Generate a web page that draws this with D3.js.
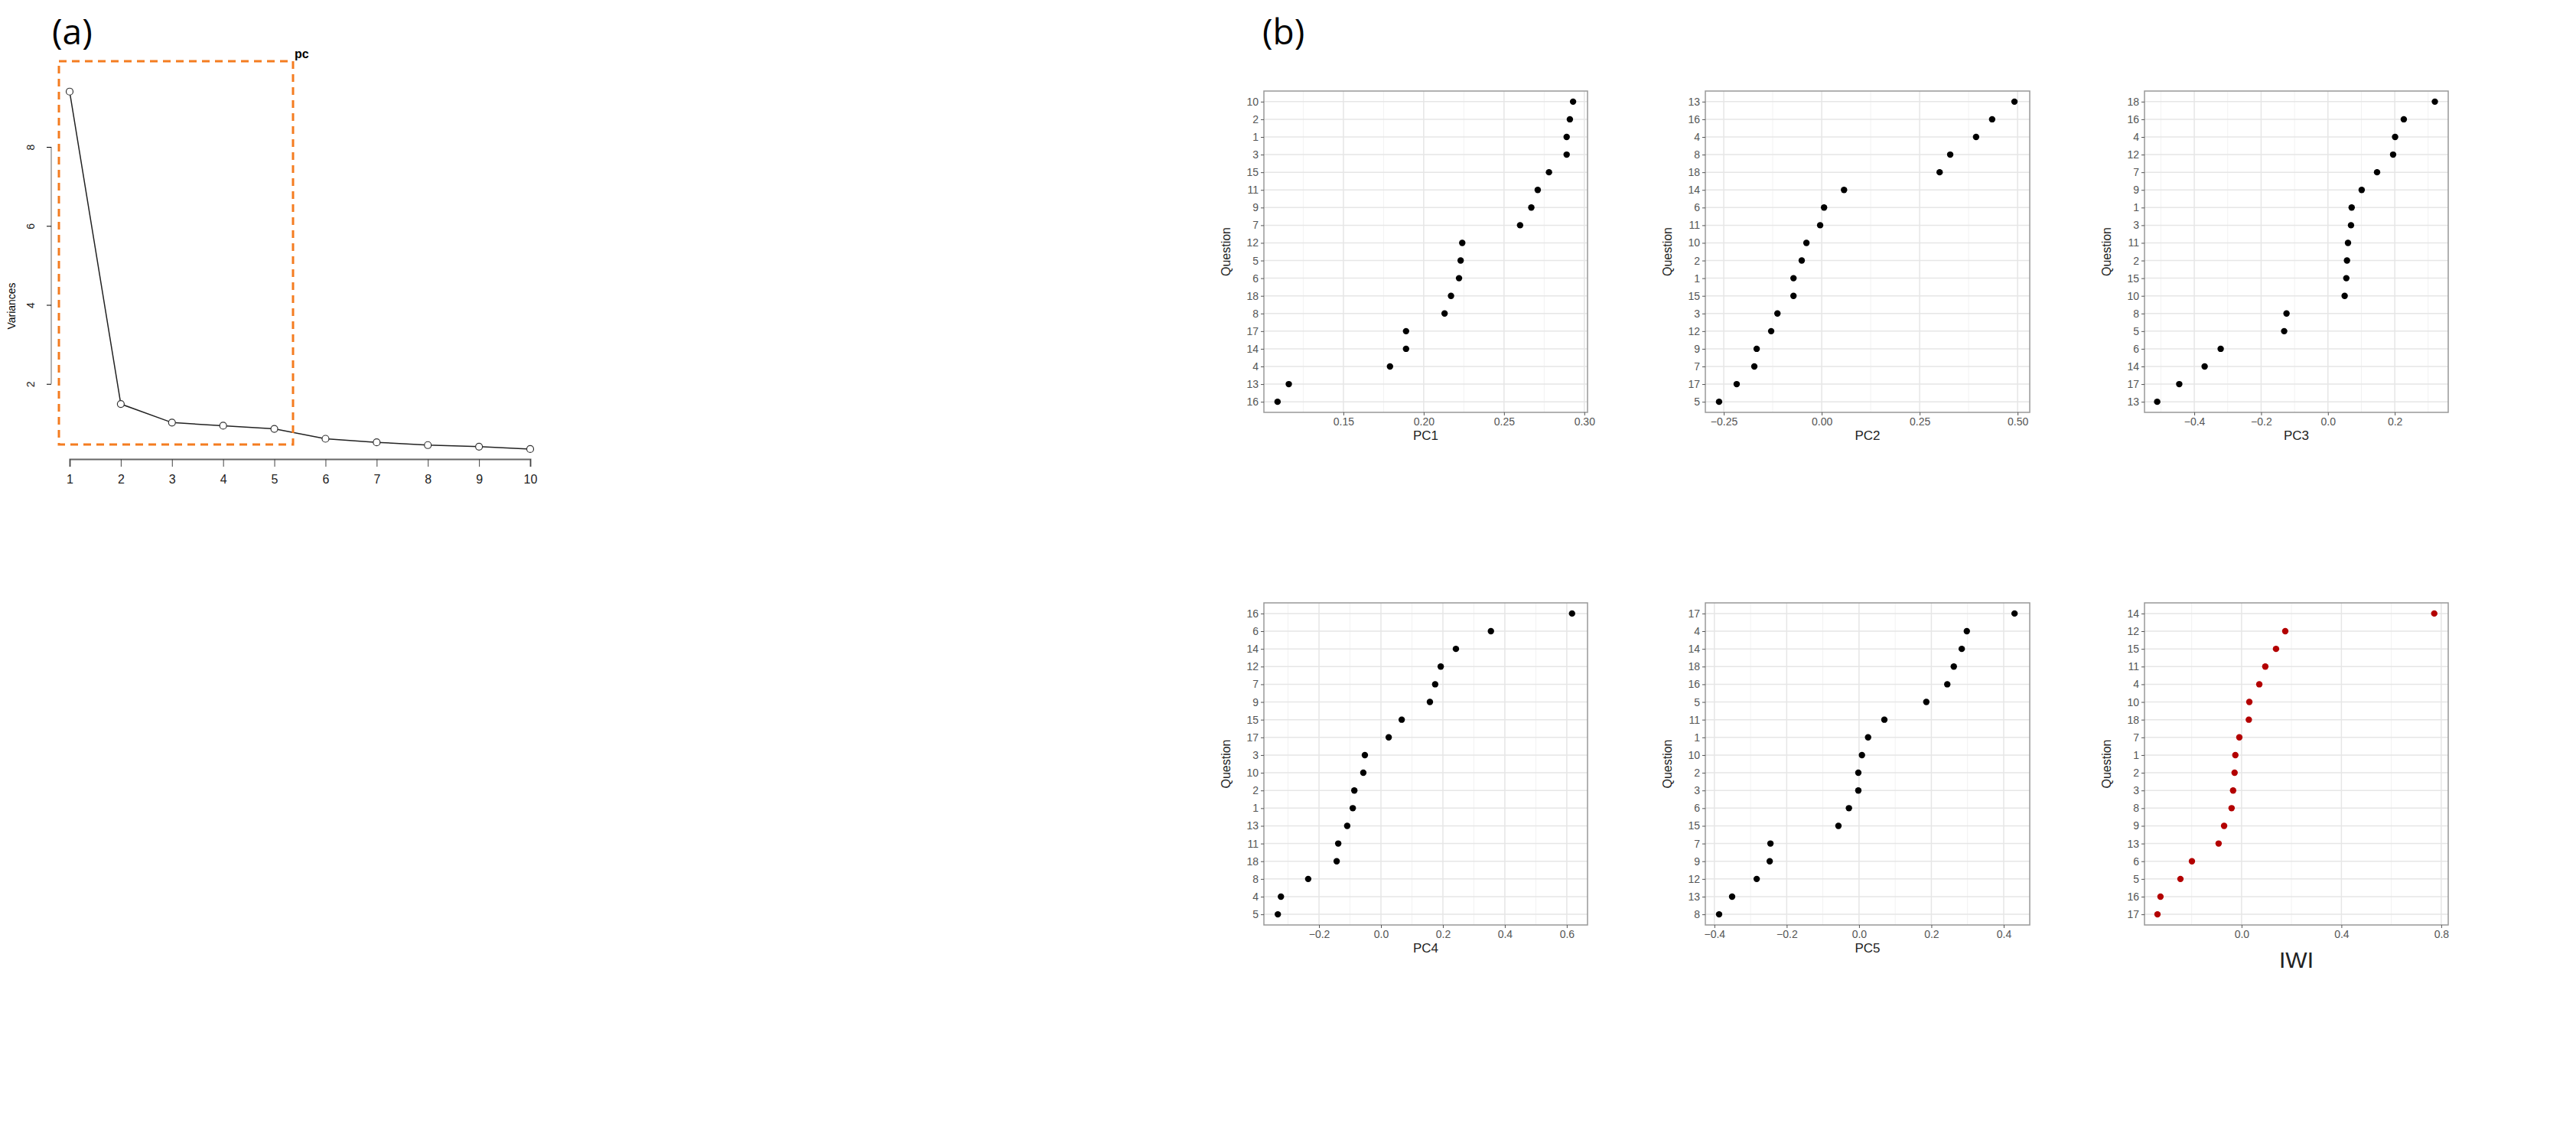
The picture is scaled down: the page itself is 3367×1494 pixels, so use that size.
<!DOCTYPE html>
<html>
<head>
<meta charset="utf-8">
<script src="https://cdn.jsdelivr.net/npm/d3@7"></script>
<style>
  body { margin: 0; background: #fff; }
  text { font-family: "Liberation Sans", Arial, sans-serif; }
</style>
</head>
<body>
<svg id="chart" width="3367" height="1494"></svg>
<script>
// scree plot (a)
var components = [1, 2, 3, 4, 5, 6, 7, 8, 9, 10];
var variances = [9.4, 1.49, 1.02, 0.94, 0.86, 0.61, 0.52, 0.45, 0.41, 0.35];
var varTicks = [2, 4, 6, 8];

// loadings (b), questions listed top to bottom
var pc1Questions = ["10", "2", "1", "3", "15", "11", "9", "7", "12", "5", "6", "18", "8", "17", "14", "4", "13", "16"];
var pc1Values = [0.293, 0.291, 0.289, 0.289, 0.278, 0.271, 0.267, 0.260, 0.224, 0.223, 0.222, 0.217, 0.213, 0.189, 0.189, 0.179, 0.116, 0.109];
var pc1Ticks = [0.15, 0.20, 0.25, 0.30];

var pc2Questions = ["13", "16", "4", "8", "18", "14", "6", "11", "10", "2", "1", "15", "3", "12", "9", "7", "17", "5"];
var pc2Values = [0.492, 0.435, 0.394, 0.328, 0.301, 0.057, 0.006, -0.004, -0.039, -0.051, -0.072, -0.072, -0.113, -0.129, -0.166, -0.172, -0.217, -0.262];
var pc2Ticks = [-0.25, 0, 0.25, 0.50];

var pc3Questions = ["18", "16", "4", "12", "7", "9", "1", "3", "11", "2", "15", "10", "8", "5", "6", "14", "17", "13"];
var pc3Values = [0.32, 0.227, 0.201, 0.195, 0.147, 0.101, 0.071, 0.069, 0.060, 0.057, 0.055, 0.050, -0.124, -0.131, -0.321, -0.369, -0.445, -0.511];
var pc3Ticks = [-0.4, -0.2, 0.0, 0.2];

var pc4Questions = ["16", "6", "14", "12", "7", "9", "15", "17", "3", "10", "2", "1", "13", "11", "18", "8", "4", "5"];
var pc4Values = [0.617, 0.355, 0.242, 0.193, 0.175, 0.158, 0.067, 0.025, -0.052, -0.057, -0.086, -0.091, -0.109, -0.138, -0.143, -0.235, -0.323, -0.333];
var pc4Ticks = [-0.2, 0.0, 0.2, 0.4, 0.6];

var pc5Questions = ["17", "4", "14", "18", "16", "5", "11", "1", "10", "2", "3", "6", "15", "7", "9", "12", "13", "8"];
var pc5Values = [0.43, 0.298, 0.284, 0.262, 0.244, 0.186, 0.070, 0.025, 0.008, -0.002, -0.002, -0.028, -0.057, -0.245, -0.247, -0.283, -0.351, -0.387];
var pc5Ticks = [-0.4, -0.2, 0.0, 0.2, 0.4];

var iwiQuestions = ["14", "12", "15", "11", "4", "10", "18", "7", "1", "2", "3", "8", "9", "13", "6", "5", "16", "17"];
var iwiValues = [0.772, 0.175, 0.138, 0.095, 0.071, 0.031, 0.029, -0.009, -0.025, -0.028, -0.034, -0.040, -0.070, -0.092, -0.199, -0.245, -0.325, -0.337];
var iwiTicks = [0.0, 0.4, 0.8];

var svg = d3.select("#chart");

// ---------- panel (a) ----------
svg.append("text").attr("x", 68).attr("y", 58)
  .style("font-family", "Open Sans").style("font-size", "46px").text("(a)");

var sx = d3.scaleLinear().domain([1, 10]).range([91, 693]);
var sy = d3.scaleLinear().domain([0, 8]).range([605, 192]);

var ga = svg.append("g");
ga.append("path")
  .datum(components.map(function (c, i) { return { x: c, y: variances[i] }; }))
  .attr("fill", "none").attr("stroke", "#222").attr("stroke-width", 1.5)
  .attr("d", d3.line().x(function (d) { return sx(d.x); }).y(function (d) { return sy(d.y); }));
ga.selectAll("circle").data(variances).enter().append("circle")
  .attr("cx", function (d, i) { return sx(components[i]); })
  .attr("cy", function (d) { return sy(d); })
  .attr("r", 4.5).attr("fill", "#fff").attr("stroke", "#333").attr("stroke-width", 1.2);

// x axis
var xa = ga.append("g").attr("transform", "translate(0,600)")
  .call(d3.axisBottom(sx).tickValues(components).tickSize(10).tickFormat(d3.format("d")));
xa.select(".domain").attr("stroke", "#666").attr("stroke-width", 2);
xa.selectAll(".tick line").attr("stroke", "#444");
xa.selectAll(".tick text").attr("dy", "1.2em").style("font-size", "16px").attr("fill", "#222");
// y axis
var ya = ga.append("g").attr("transform", "translate(67,0)")
  .call(d3.axisLeft(sy).tickValues(varTicks).tickSize(6).tickSizeOuter(0));
ya.select(".domain").attr("stroke", "#666").attr("d", "M0," + sy(2) + "V" + sy(8));
ya.selectAll(".tick text").attr("x", -22).attr("dy", 0).attr("text-anchor", "middle")
  .attr("transform", "rotate(-90,-22,0)").style("font-size", "14px").attr("fill", "#222");
ga.append("text").attr("transform", "translate(20,400) rotate(-90)")
  .attr("text-anchor", "middle").style("font-size", "14px").text("Variances");

// orange selection box
ga.append("rect").attr("x", 77).attr("y", 80).attr("width", 306).attr("height", 501)
  .attr("fill", "none").attr("stroke", "#f47c20").attr("stroke-width", 3)
  .attr("stroke-dasharray", "10,7");
ga.append("text").attr("x", 385).attr("y", 76).style("font-size", "16px")
  .style("font-weight", "bold").text("pc");

// ---------- panel (b) ----------
svg.append("text").attr("x", 1650).attr("y", 58)
  .style("font-family", "Open Sans").style("font-size", "46px").text("(b)");

var panels = [
  { q: pc1Questions, v: pc1Values, t: pc1Ticks, dom: [0.1005, 0.302], x0: 1652, x1: 2075, y0: 119, y1: 539, title: "PC1", fmt: ".2f" },
  { q: pc2Questions, v: pc2Values, t: pc2Ticks, dom: [-0.297, 0.531], x0: 2229, x1: 2653, y0: 119, y1: 539, title: "PC2", fmt: ".2f" },
  { q: pc3Questions, v: pc3Values, t: pc3Ticks, dom: [-0.549, 0.36], x0: 2803, x1: 3200, y0: 119, y1: 539, title: "PC3", fmt: ".1f" },
  { q: pc4Questions, v: pc4Values, t: pc4Ticks, dom: [-0.378, 0.667], x0: 1652, x1: 2075, y0: 788, y1: 1209, title: "PC4", fmt: ".1f" },
  { q: pc5Questions, v: pc5Values, t: pc5Ticks, dom: [-0.425, 0.472], x0: 2229, x1: 2653, y0: 788, y1: 1209, title: "PC5", fmt: ".1f" },
  { q: iwiQuestions, v: iwiValues, t: iwiTicks, dom: [-0.389, 0.828], x0: 2803, x1: 3200, y0: 788, y1: 1209, title: "IWI", fmt: ".1f", red: true }
];

panels.forEach(function (p) {
  var x = d3.scaleLinear().domain(p.dom).range([p.x0, p.x1]);
  var y = d3.scalePoint().domain(p.q).range([p.y0, p.y1]).padding(0.6);
  var g = svg.append("g");

  // minor grid lines between major ticks
  var step = p.t[1] - p.t[0];
  var minor = [];
  for (var m = p.t[0] - step / 2; m < p.dom[1]; m += step) {
    if (m > p.dom[0]) minor.push(m);
  }
  g.selectAll(".minor").data(minor).enter().append("line")
    .attr("x1", function (d) { return x(d); }).attr("x2", function (d) { return x(d); })
    .attr("y1", p.y0).attr("y2", p.y1).attr("stroke", "#f2f2f2").attr("stroke-width", 1);
  g.selectAll(".vmajor").data(p.t).enter().append("line")
    .attr("x1", function (d) { return x(d); }).attr("x2", function (d) { return x(d); })
    .attr("y1", p.y0).attr("y2", p.y1).attr("stroke", "#e6e6e6").attr("stroke-width", 1.5);
  g.selectAll(".hmajor").data(p.q).enter().append("line")
    .attr("x1", p.x0).attr("x2", p.x1)
    .attr("y1", function (d) { return y(d); }).attr("y2", function (d) { return y(d); })
    .attr("stroke", "#e6e6e6").attr("stroke-width", 1.5);

  g.append("rect").attr("x", p.x0).attr("y", p.y0)
    .attr("width", p.x1 - p.x0).attr("height", p.y1 - p.y0)
    .attr("fill", "none").attr("stroke", "#999").attr("stroke-width", 1.5);

  g.selectAll(".dot").data(p.v).enter().append("circle")
    .attr("cx", function (d) { return x(d); })
    .attr("cy", function (d, i) { return y(p.q[i]); })
    .attr("r", 4.2).attr("fill", p.red ? "#b30000" : "#000");

  var xa = g.append("g").attr("transform", "translate(0," + p.y1 + ")")
    .call(d3.axisBottom(x).tickValues(p.t).tickSize(4).tickFormat(d3.format(p.fmt)));
  xa.select(".domain").remove();
  xa.selectAll(".tick line").attr("stroke", "#555");
  xa.selectAll(".tick text").style("font-size", "14px").attr("fill", "#555");

  var ya = g.append("g").attr("transform", "translate(" + p.x0 + ",0)")
    .call(d3.axisLeft(y).tickSize(4));
  ya.select(".domain").remove();
  ya.selectAll(".tick line").attr("stroke", "#555");
  ya.selectAll(".tick text").style("font-size", "14px").attr("fill", "#555");

  g.append("text").attr("transform", "translate(" + (p.x0 - 44) + "," + ((p.y0 + p.y1) / 2) + ") rotate(-90)")
    .attr("text-anchor", "middle").style("font-size", "16px").attr("fill", "#222").text("Question");

  g.append("text").attr("x", (p.x0 + p.x1) / 2).attr("y", p.y1 + (p.red ? 56 : 36))
    .attr("text-anchor", "middle").style("font-size", p.red ? "30px" : "17px")
    .attr("fill", "#222").text(p.title);
});
</script>
</body>
</html>
